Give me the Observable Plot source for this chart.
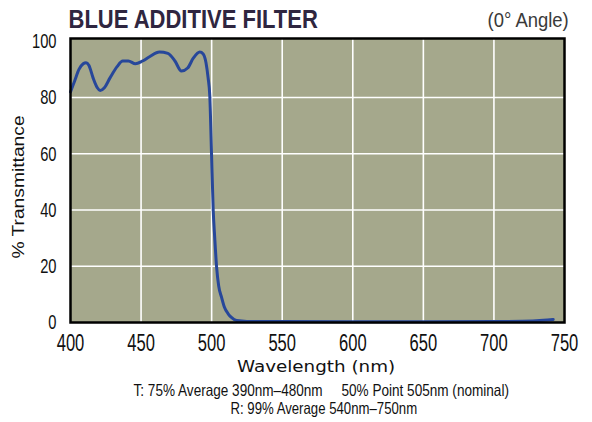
<!DOCTYPE html>
<html>
<head>
<meta charset="utf-8">
<script src="https://cdn.jsdelivr.net/npm/d3@7"></script>
<script src="https://cdn.jsdelivr.net/npm/@observablehq/plot@0.6"></script>
<style>
  body { margin: 0; background: #fff; }
  #wrap { position: relative; width: 592px; height: 422px; overflow: hidden; }
  #wrap svg { position: absolute; left: 0; top: 0; }
  .t { position: absolute; left: 0; top: 0; white-space: nowrap; line-height: 1; font-family: "Liberation Sans", Arial, sans-serif; color: #111; }
  #title { font-size: 26.5px; font-weight: bold; color: #2f2640; }
  #angle { font-size: 20.5px; color: #3a3a3a; }
  #xlab { font-size: 16px; font-family: "DejaVu Sans", sans-serif; color: #111; }
  .cap { font-size: 16.5px; color: #111; }
  #ylab { font-size: 16px; color: #111; }
</style>
</head>
<body>
<div id="wrap">
  <div class="t" id="title">BLUE ADDITIVE FILTER</div>
  <div class="t" id="angle">(0° Angle)</div>
  <div class="t" id="xlab">Wavelength (nm)</div>
  <div class="t" id="ylab">% Transmittance</div>
  <div class="t cap" id="cap1">T: 75% Average 390nm–480nm&nbsp;&nbsp;&nbsp;&nbsp;&nbsp;50% Point 505nm (nominal)</div>
  <div class="t cap" id="cap2">R: 99% Average 540nm–750nm</div>
</div>
<script>
const wavelength = [400,403,406,409,411,413,416,419,421,424,428,433,437,441,446,451,456,463,469,474,478.6,483,487,491.6,494,496,497.5,498.7,499.9,501.1,502.2,503.5,505,507,509,511.7,514,517.7,525,550,600,650,700,720,735,742];
const transmittance = [82,86,90,92,92.4,91.5,87,83.5,82.5,83.5,87,91,93,93,92,93,94.5,96.2,95.7,93,89.4,90.5,94,96.2,95.5,92.4,87,80.5,60.2,40,30,19.8,13,9,5.5,3.1,1.8,0.7,0.4,0.35,0.3,0.3,0.35,0.45,0.8,1.1];
const xTicks = [400,450,500,550,600,650,700,750];
const yTicks = [0,20,40,60,80,100];

const data = wavelength.map((w, i) => ({w, t: transmittance[i]}));

const chart = Plot.plot({
  width: 592,
  height: 422,
  marginLeft: 70,
  marginRight: 28,
  marginTop: 38,
  marginBottom: 100,
  style: {fontFamily: '"Liberation Sans", Arial, sans-serif', background: "transparent", color: "#111"},
  x: {domain: [400, 750]},
  y: {domain: [0, 101]},
  marks: [
    Plot.frame({fill: "#a5a88c"}),
    Plot.gridX(xTicks.slice(1, -1), {stroke: "#fff", strokeOpacity: 1, strokeWidth: 1.6}),
    Plot.gridY(yTicks.slice(1, -1), {stroke: "#fff", strokeOpacity: 1, strokeWidth: 1.6}),
    Plot.line(data, {x: "w", y: "t", stroke: "#27479a", strokeWidth: 3, curve: "monotone-x"}),
    Plot.frame({stroke: "#000", strokeWidth: 2.5}),
    Plot.axisX(xTicks, {tickSize: 0, tickPadding: 12, fontSize: 23, label: null}),
    Plot.axisY(yTicks, {tickSize: 0, tickPadding: 14, fontSize: 21, label: null})
  ]
});
const wrap = document.getElementById("wrap");
wrap.prepend(chart);

// condense tick labels
function condense(sel, k) {
  chart.querySelectorAll(sel).forEach(t => {
    const L = t.getComputedTextLength();
    t.setAttribute("textLength", (L * k).toFixed(2));
    t.setAttribute("lengthAdjust", "spacingAndGlyphs");
  });
}
condense('g[aria-label="x-axis tick label"] text', 0.72);
condense('g[aria-label="y-axis tick label"] text', 0.70);

// place HTML text: center (cx, cy), fitted to width w, optional rotation
function place(id, cx, cy, w, rot) {
  const el = document.getElementById(id);
  const ow = el.offsetWidth, oh = el.offsetHeight;
  el.style.left = (cx - ow / 2) + "px";
  el.style.top = (cy - oh / 2) + "px";
  el.style.transform = (rot ? `rotate(${rot}deg) ` : "") + `scaleX(${w / ow})`;
}
place("title", 192.5, 19.5, 249);
place("angle", 527.5, 20.5, 81);
place("xlab", 316, 367, 158);
place("ylab", 18, 186.5, 143, -90);
place("cap1", 320.5, 390, 375);
place("cap2", 323.5, 408.5, 187);
</script>
</body>
</html>
